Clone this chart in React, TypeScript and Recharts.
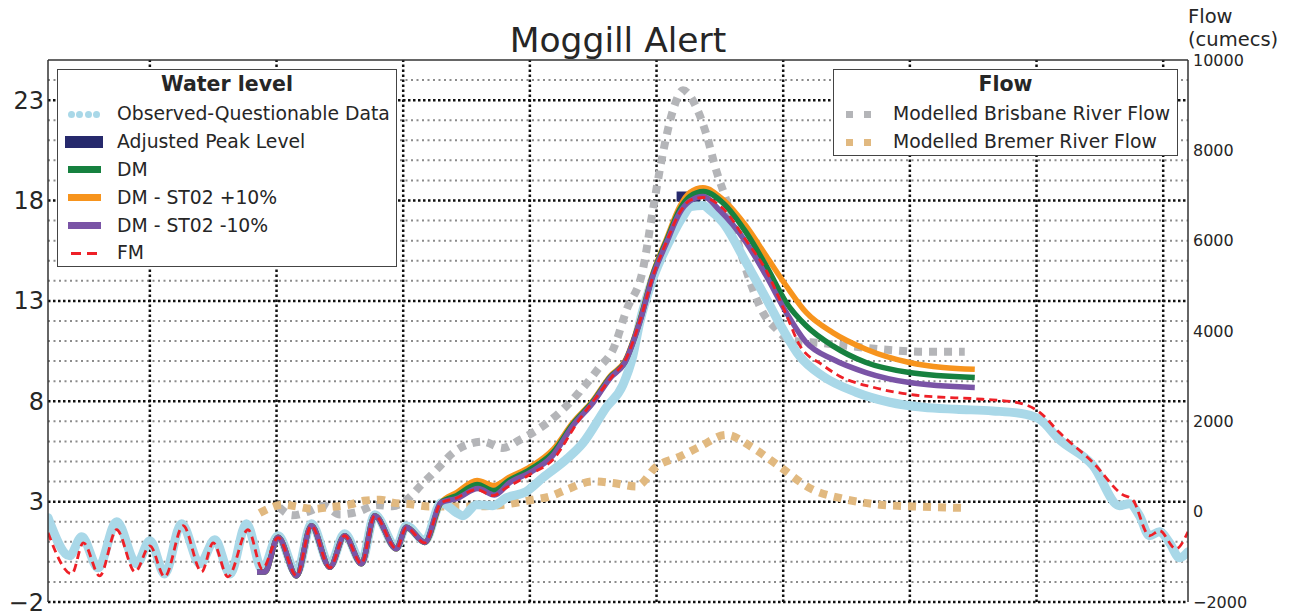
import { ComposedChart, Line, XAxis, YAxis, ReferenceLine } from "recharts"

const W = 1291
const H = 614

const BLUE = "#a9d8e8"
const NAVY = "#26296c"
const GREEN = "#16813f"
const ORANGE = "#f7941d"
const PURPLE = "#7a54a6"
const RED = "#ee2027"
const GREY = "#b4b5b8"
const TAN = "#e1b980"

// x is hours after the first day gridline (gridlines every 24 h)
const X_DOMAIN: [number, number] = [-19.3, 196.7]
const dayTicks = [0, 24, 48, 72, 96, 120, 144, 168, 192]
const majorLevels = [-2, 3, 8, 13, 18, 23]
const minorLevels = [-1, 0, 1, 2, 4, 5, 6, 7, 9, 10, 11, 12, 14, 15, 16, 17, 19, 20, 21, 22, 24]
const flowTicks = [-2000, 0, 2000, 4000, 6000, 8000, 10000]

// water level (m)
const observed = [
  [-19.3, 2.2], [-15.2, 0.3], [-12.9, 1.25], [-9.8, -0.3], [-6.3, 2.0], [-2.5, -0.1], [0, 1.05],
  [2.8, -0.6], [6.0, 1.9], [9.5, -0.1], [12.3, 1.1], [15.2, -0.6], [18.3, 1.9], [21.3, -0.4],
  [24.3, 1.3], [27.8, -0.55], [30.6, 1.9], [34.1, -0.15], [36.9, 1.4], [40.1, 0.0], [42.6, 2.35],
  [46.7, 0.75], [48.6, 1.8], [52.1, 1.05], [55.2, 2.95], [58.1, 2.45], [59.3, 2.3], [61.9, 2.85],
  [65.0, 2.8], [67.6, 3.2], [71.3, 3.5], [74.5, 4.2], [78.9, 5.1], [82.0, 5.9], [86.5, 7.7],
  [89.6, 8.8], [91.5, 10.25], [92.8, 11.9], [95.3, 14.1], [98.5, 16.0], [101.0, 17.2], [102.5, 17.7],
  [104.8, 17.75], [106.2, 17.5], [108.6, 16.9], [113.0, 14.9], [116.8, 13.1], [119.9, 11.6],
  [123.1, 10.25], [127.5, 9.25], [133.8, 8.45], [140.2, 7.95], [146.5, 7.7], [152.8, 7.6],
  [159.7, 7.52], [166.0, 7.35], [168.6, 7.1], [172.3, 6.1], [178.7, 4.8], [183.7, 2.8], [185.6, 2.9],
  [187.5, 2.3], [189.4, 1.3], [191.3, 1.5], [193.2, 0.95], [195.1, 0.2], [196.7, 0.5],
]

const adjustedPeak = [[99.8, 18.2], [104.2, 18.2]]

// shared tidal start of the three DM runs
const dmTide = [
  [20.3, -0.5], [21.8, -0.5], [24.3, 1.22], [27.8, -0.7], [30.6, 1.8], [34.1, -0.27], [36.9, 1.3],
  [40.1, -0.1], [42.6, 2.3], [46.7, 0.65], [48.6, 1.72], [52.1, 0.97], [55.2, 2.96],
]

const dm = [
  ...dmTide,
  [58.1, 3.3], [62.0, 3.85], [65.2, 3.55], [68.0, 4.05], [72.0, 4.6], [76.4, 5.45], [80.2, 6.88],
  [84.0, 8.0], [87.2, 9.2], [90.0, 9.95], [92.8, 11.95], [95.3, 14.3], [97.9, 16.0], [100.4, 17.55],
  [102.3, 18.2], [104.9, 18.45], [108.6, 17.88], [113.0, 16.4], [116.8, 14.73], [120.6, 12.91],
  [124.4, 11.75], [129.4, 10.76], [135.7, 9.93], [143.9, 9.43], [156.3, 9.18],
]

const dmPlus = [
  ...dmTide,
  [58.1, 3.45], [62.0, 4.05], [65.2, 3.8], [68.0, 4.2], [72.0, 4.72], [76.4, 5.6], [80.2, 6.95],
  [84.0, 8.05], [87.2, 9.25], [90.0, 10.0], [92.8, 12.0], [95.3, 14.35], [97.9, 16.1], [100.4, 17.7],
  [102.3, 18.4], [104.8, 18.63], [108.6, 18.05], [113.0, 16.72], [116.8, 15.23], [120.6, 13.74],
  [124.4, 12.41], [129.4, 11.42], [135.7, 10.59], [143.9, 9.93], [150.3, 9.68], [156.3, 9.59],
]

const dmMinus = [
  ...dmTide,
  [58.1, 3.15], [62.2, 3.65], [65.3, 3.33], [68.2, 3.95], [72.0, 4.45], [76.2, 5.25], [80.2, 6.8],
  [84.0, 7.94], [87.2, 9.15], [90.0, 9.93], [92.8, 11.92], [95.3, 14.23], [97.9, 15.9], [100.4, 17.39],
  [102.3, 17.97], [104.8, 18.2], [108.0, 17.5], [113.0, 15.9], [116.8, 14.24], [120.6, 12.41],
  [124.4, 10.92], [129.4, 10.09], [135.7, 9.43], [143.9, 8.93], [156.3, 8.68],
]

const fm = [
  [-19.3, 1.45], [-14.8, -0.6], [-12.6, 0.95], [-9.5, -0.7], [-6.3, 1.6], [-2.8, -0.5], [0, 0.8],
  [2.8, -0.75], [6.3, 1.8], [9.8, -0.5], [12.0, 0.95], [14.8, -0.75], [18.6, 1.6], [21.3, -0.35],
  [24.3, 1.2], [27.8, -0.7], [30.6, 1.8], [34.1, -0.3], [36.9, 1.3], [40.1, -0.1], [42.6, 2.3],
  [46.7, 0.65], [48.6, 1.7], [52.1, 0.95], [55.2, 2.95], [57.8, 3.15], [61.9, 3.6], [65.0, 3.3],
  [67.6, 3.7], [72.0, 4.35], [76.4, 5.1], [81.4, 7.1], [84.0, 8.0], [87.8, 9.3], [90.0, 10.0],
  [92.8, 11.95], [95.3, 14.2], [97.9, 15.95], [100.4, 17.4], [102.3, 18.0], [104.8, 18.15],
  [108.6, 17.6], [113.0, 16.0], [116.8, 14.5], [120.6, 12.3], [123.1, 10.8], [127.5, 9.8],
  [130.7, 9.25], [137.0, 8.7], [145.2, 8.3], [157.8, 8.1], [164.1, 7.95], [168.6, 7.45],
  [172.3, 6.45], [178.7, 4.95], [184.3, 3.35], [186.2, 3.1], [189.4, 1.3], [191.3, 1.55],
  [194.4, 0.65], [196.7, 1.5],
]

// flow (cumecs)
const brisbaneFlow = [
  [24.5, 100], [27.0, -80], [30.0, 0], [33.0, 130], [36.0, -60], [39.5, 0], [43.0, 150], [46.0, 120],
  [48.5, 250], [51.5, 600], [54.5, 950], [57.4, 1300], [60.0, 1480], [63.1, 1550], [66.9, 1410],
  [70.1, 1590], [73.9, 1850], [77.7, 2200], [81.4, 2650], [85.2, 3200], [87.8, 3600], [90.3, 4460],
  [93.4, 5350], [95.3, 6670], [97.2, 7930], [99.1, 8880], [101.0, 9330], [103.5, 8960], [105.4, 8370],
  [107.3, 7560], [109.2, 6900], [112.4, 5570], [114.3, 4910], [116.2, 4400], [118.7, 4050],
  [121.2, 3800], [127.5, 3730], [133.8, 3650], [140.2, 3580], [146.5, 3540], [154.4, 3540],
]

const bremerFlow = [
  [20.8, -30], [22.7, 80], [25.2, 155], [28.0, 110], [31.0, 60], [34.0, 100], [37.9, 155], [40.5, 240],
  [43.6, 265], [46.0, 200], [49.0, 170], [53.0, 117], [56.8, 117], [61.9, 117], [67.0, 155],
  [72.6, 265], [75.8, 338], [78.9, 486], [84.0, 670], [87.8, 634], [92.2, 559], [96.0, 1000],
  [100.4, 1220], [104.2, 1440], [109.2, 1700], [114.3, 1410], [119.3, 1000], [125.6, 486],
  [130.7, 303], [138.3, 155], [144.6, 117], [154.7, 82],
]

const pts = (arr: number[][]) => arr.map(([t, v]) => ({ t, v }))
const minus = (v: number) => (v < 0 ? `\u2212${Math.abs(v)}` : `${v}`)

type Handle = "dots" | "block" | "bar" | "dash" | "squares"
const levelLegend: { name: string; color: string; handle: Handle }[] = [
  { name: "Observed-Questionable Data", color: BLUE, handle: "dots" },
  { name: "Adjusted Peak Level", color: NAVY, handle: "block" },
  { name: "DM", color: GREEN, handle: "bar" },
  { name: "DM - ST02 +10%", color: ORANGE, handle: "bar" },
  { name: "DM - ST02 -10%", color: PURPLE, handle: "bar" },
  { name: "FM", color: RED, handle: "dash" },
]
const flowLegend: { name: string; color: string; handle: Handle }[] = [
  { name: "Modelled Brisbane River Flow", color: GREY, handle: "squares" },
  { name: "Modelled Bremer River Flow", color: TAN, handle: "squares" },
]

function LegendHandle({ handle, color }: { handle: Handle; color: string }) {
  if (handle === "dots")
    return (
      <div style={{ display: "flex", gap: 1.5 }}>
        {[0, 1, 2, 3].map(i => (
          <span key={i} style={{ width: 7, height: 7, borderRadius: "50%", background: color }} />
        ))}
      </div>
    )
  if (handle === "block") return <span style={{ display: "block", width: 38, height: 12, background: color }} />
  if (handle === "bar") return <span style={{ display: "block", width: 33, height: 7, background: color }} />
  if (handle === "dash")
    return (
      <div style={{ display: "flex", gap: 6 }}>
        <span style={{ width: 10, height: 3.5, background: color }} />
        <span style={{ width: 10, height: 3.5, background: color }} />
      </div>
    )
  return (
    <div style={{ display: "flex", gap: 11 }}>
      <span style={{ width: 7, height: 7, background: color }} />
      <span style={{ width: 7, height: 7, background: color }} />
    </div>
  )
}

function LegendBox({ title, items, left, top, width, height, handleLeft, handleWidth, textLeft }: {
  title: string
  items: { name: string; color: string; handle: Handle }[]
  left: number
  top: number
  width: number
  height: number
  handleLeft: number
  handleWidth: number
  textLeft: number
}) {
  return (
    <div style={{ position: "absolute", left, top, width, height, boxSizing: "border-box", border: "1.5px solid #444", background: "#fff" }}>
      <div style={{ position: "absolute", left: 0, right: 0, top: 14.3 - 10.5, textAlign: "center", fontWeight: "bold", fontSize: 20.5, lineHeight: "21px" }}>
        {title}
      </div>
      {items.map((it, i) => (
        <div key={it.name} style={{ position: "absolute", left: 0, top: 44.3 + i * 27.8 - 12, height: 24, display: "flex", alignItems: "center" }}>
          <div style={{ position: "absolute", left: handleLeft, width: handleWidth, display: "flex", justifyContent: "center" }}>
            <LegendHandle handle={it.handle} color={it.color} />
          </div>
          <span style={{ position: "absolute", left: textLeft, whiteSpace: "nowrap", fontSize: 18.8, lineHeight: "24px" }}>{it.name}</span>
        </div>
      ))}
    </div>
  )
}

export default function App() {
  return (
    <div style={{ position: "absolute", left: 0, top: 0, width: W, height: H, background: "#fff", fontFamily: "'DejaVu Sans', sans-serif", color: "#262626" }}>
      <ComposedChart width={W} height={H} margin={{ top: 60, right: 0, bottom: 12, left: 0 }}>
        <XAxis dataKey="t" type="number" domain={X_DOMAIN} ticks={dayTicks} allowDataOverflow height={0} tick={false} tickLine={false} axisLine={{ stroke: "#333", strokeWidth: 1.5 }} />
        <YAxis yAxisId="lvl" type="number" domain={[-2, 25]} ticks={majorLevels} interval={0} allowDataOverflow width={48}
          tickFormatter={minus} tickSize={0} tickMargin={4} tick={{ fontSize: 24, fill: "#262626" }} axisLine={{ stroke: "#333", strokeWidth: 1.5 }} />
        <YAxis yAxisId="flow" orientation="right" type="number" domain={[-2000, 10000]} ticks={flowTicks} interval={0} allowDataOverflow width={103}
          tickFormatter={minus} tickSize={0} tickMargin={5} tick={{ fontSize: 16, fill: "#262626", textAnchor: "start" }} axisLine={{ stroke: "#333", strokeWidth: 1.5 }} />

        {minorLevels.map(v => (
          <ReferenceLine key={"m" + v} yAxisId="lvl" y={v} stroke="#8c8c8c" strokeWidth={2} strokeDasharray="2 3.5" />
        ))}
        {majorLevels.map(v => (
          <ReferenceLine key={"M" + v} yAxisId="lvl" y={v} stroke="#111" strokeWidth={2.5} strokeDasharray="2.5 2.5" />
        ))}
        {dayTicks.map(t => (
          <ReferenceLine key={"d" + t} yAxisId="lvl" x={t} stroke="#111" strokeWidth={2.5} strokeDasharray="2.5 2.5" />
        ))}
        <ReferenceLine yAxisId="lvl" y={25} stroke="#333" strokeWidth={1.5} />

        <Line yAxisId="flow" data={pts(brisbaneFlow)} dataKey="v" type="monotone" stroke={GREY} strokeWidth={8} strokeDasharray="8 7" dot={false} activeDot={false} isAnimationActive={false} />
        <Line yAxisId="flow" data={pts(bremerFlow)} dataKey="v" type="monotone" stroke={TAN} strokeWidth={8} strokeDasharray="8 7" dot={false} activeDot={false} isAnimationActive={false} />

        <Line yAxisId="lvl" data={pts(observed)} dataKey="v" type="monotone" stroke={BLUE} strokeWidth={9} strokeLinecap="round" strokeLinejoin="round" dot={false} activeDot={false} isAnimationActive={false} />
        <Line yAxisId="lvl" data={pts(adjustedPeak)} dataKey="v" type="linear" stroke={NAVY} strokeWidth={10} dot={false} activeDot={false} isAnimationActive={false} />
        <Line yAxisId="lvl" data={pts(dmPlus)} dataKey="v" type="monotone" stroke={ORANGE} strokeWidth={5.5} dot={false} activeDot={false} isAnimationActive={false} />
        <Line yAxisId="lvl" data={pts(dm)} dataKey="v" type="monotone" stroke={GREEN} strokeWidth={5.5} dot={false} activeDot={false} isAnimationActive={false} />
        <Line yAxisId="lvl" data={pts(dmMinus)} dataKey="v" type="monotone" stroke={PURPLE} strokeWidth={5.5} dot={false} activeDot={false} isAnimationActive={false} />
        <Line yAxisId="lvl" data={pts(fm)} dataKey="v" type="monotone" stroke={RED} strokeWidth={2.8} strokeDasharray="8 5" dot={false} activeDot={false} isAnimationActive={false} />
      </ComposedChart>

      <div style={{ position: "absolute", left: 0, width: 1236, top: 23, textAlign: "center", fontSize: 34.5, lineHeight: "34px" }}>Moggill Alert</div>
      <div style={{ position: "absolute", left: 1188, top: 7, fontSize: 19.5, lineHeight: "19.5px" }}>Flow</div>
      <div style={{ position: "absolute", left: 1188, top: 30, fontSize: 19.5, lineHeight: "19.5px" }}>(cumecs)</div>

      <LegendBox title="Water level" items={levelLegend} left={57} top={69} width={340} height={198} handleLeft={6} handleWidth={40} textLeft={59} />
      <LegendBox title="Flow" items={flowLegend} left={833} top={69} width={345} height={87} handleLeft={11} handleWidth={27} textLeft={59} />
    </div>
  )
}
